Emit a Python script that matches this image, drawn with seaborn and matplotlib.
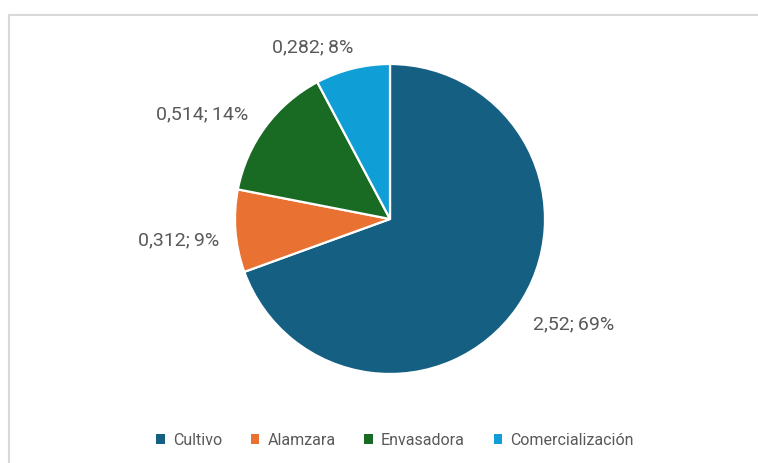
import numpy as np
import matplotlib
matplotlib.use("Agg")
import matplotlib.pyplot as plt
from matplotlib.patches import Patch
from matplotlib.lines import Line2D
import seaborn as sns

# Cost breakdown by stage of the olive-oil chain
categories = ["Cultivo", "Alamzara", "Envasadora", "Comercialización"]
values = [2.52, 0.312, 0.514, 0.282]
value_labels = ["2,52", "0,312", "0,514", "0,282"]

sns.set_theme(style="white")
plt.rcParams["font.family"] = ["Roboto", "DejaVu Sans"]

colors = ["#156082", "#E97132", "#196B24", "#0F9ED5"]
text_gray = "#595959"

W, H = 758, 464
fig = plt.figure(figsize=(W / 100, H / 100), dpi=100)
ax = fig.add_axes([0, 0, 1, 1])
ax.set_xlim(0, W)
ax.set_ylim(0, H)
ax.set_aspect("equal")
ax.axis("off")

center = (390, H - 220)
radius = 155

wedges, _ = ax.pie(values, colors=colors, startangle=90, counterclock=False,
                   center=center, radius=radius, frame=True,
                   wedgeprops=dict(edgecolor="white", linewidth=1.6))
ax.set_xlim(0, W)
ax.set_ylim(0, H)
ax.axis("off")

# Label placement: (angle nudge in degrees, distance as fraction of radius)
label_layout = [(5.5, 1.36), (1, 1.37), (7, 1.39), (10, 1.22)]

total = sum(values)
for w, v, vl, (dang, dist) in zip(wedges, values, value_labels, label_layout):
    mid = np.deg2rad((w.theta1 + w.theta2) / 2 + dang)
    pct = round(v / total * 100)
    x = center[0] + dist * radius * np.cos(mid)
    y = center[1] + dist * radius * np.sin(mid)
    ax.text(x, y, f"{vl};\u2009{pct}%", ha="center", va="center",
            fontsize=14, color=text_gray)

# Chart area border (top and left edges visible)
ax.add_line(Line2D([8.5, W], [H - 15.5, H - 15.5], color="#D9D9D9", lw=1.5))
ax.add_line(Line2D([8.5, 8.5], [0, H - 15.5], color="#D9D9D9", lw=1.5))

handles = [Patch(facecolor=c, edgecolor="none") for c in colors]
leg = ax.legend(handles, categories, ncol=4, frameon=False,
                loc="center", bbox_to_anchor=(395, H - 441),
                bbox_transform=ax.transData,
                handlelength=0.55, handleheight=0.55, handletextpad=0.5,
                columnspacing=1.8, fontsize=11.5)
for t in leg.get_texts():
    t.set_color(text_gray)

fig.savefig("out.png", dpi=100)
